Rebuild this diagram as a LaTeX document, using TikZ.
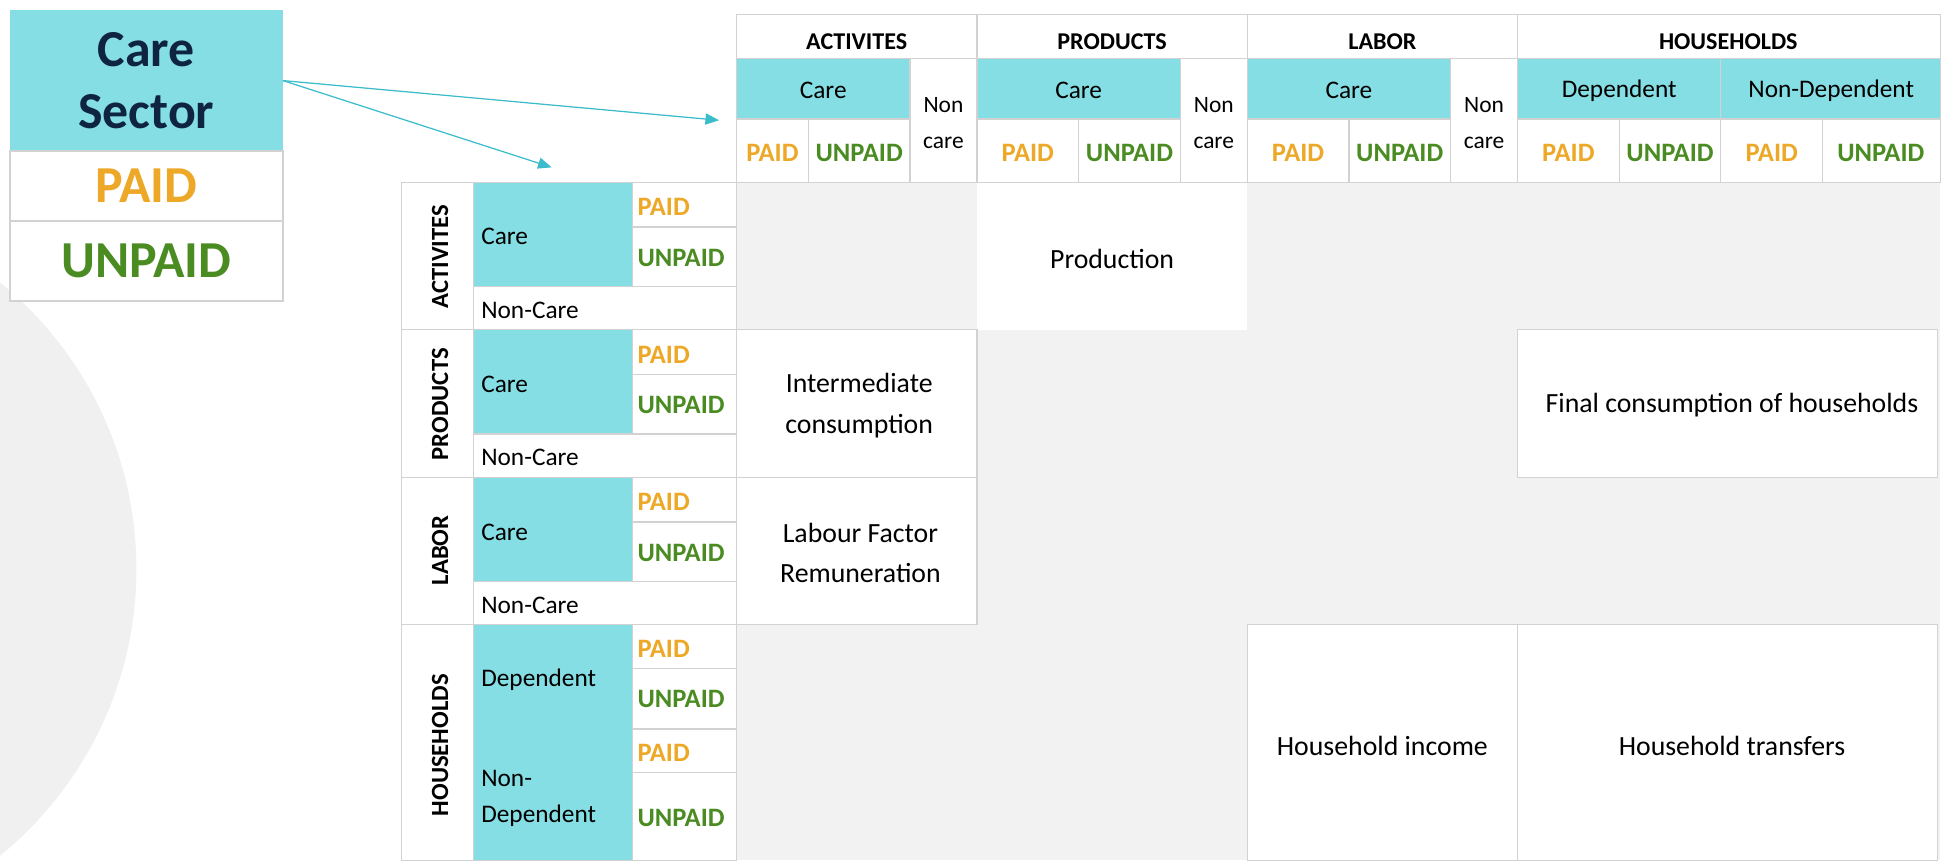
\documentclass[tikz,border=0pt]{standalone}
\usepackage{fontspec}
\setmainfont{Carlito}
\usetikzlibrary{arrows.meta}

\definecolor{careblue}{HTML}{85DEE3}
\definecolor{paidorange}{HTML}{ECA826}
\definecolor{unpaidgreen}{HTML}{4A8C22}
\definecolor{gridgray}{HTML}{D2D2D2}
\definecolor{bodygray}{HTML}{F2F2F2}
\definecolor{globegray}{HTML}{F0F0F0}
\definecolor{sectornavy}{HTML}{0E2440}
\definecolor{arrowteal}{HTML}{3BBCCB}

\tikzset{
  gridline/.style={draw=gridgray, line width=1bp},
  careline/.style={draw=arrowteal, line width=1bp, -{Triangle[length=11bp,width=9bp]}},
  legendcell/.style={minimum width=220bp, align=center, font=\fontsize{42}{50}\selectfont\bfseries},
  headtxt/.style={font=\fontsize{19.5}{24}\selectfont\bfseries},
  subtxt/.style={font=\fontsize{20.5}{29}\selectfont},
  noncare/.style={font=\fontsize{19}{29}\selectfont, align=center},
  paidtxt/.style={font=\fontsize{21.5}{26}\selectfont\bfseries, text=paidorange},
  unpaidtxt/.style={font=\fontsize{21.5}{26}\selectfont\bfseries, text=unpaidgreen},
  rowtxt/.style={font=\fontsize{20}{24}\selectfont\bfseries, rotate=90},
  bodytxt/.style={font=\fontsize{22.5}{33}\selectfont, align=center}
}

\begin{document}
\begin{tikzpicture}[x=1bp, y=-1bp, every node/.style={inner sep=0pt}]
  \useasboundingbox (0,0) rectangle (1568,694);
  % globe watermark on the left
  \begin{scope}
    \clip (0,0) rectangle (1568,694);
    \fill[globegray] (-188,459) circle[radius=298bp];
  \end{scope}

  % legend
  \node[legendcell, fill=careblue, minimum height=114bp, text=sectornavy] (caresector) at (118,65) {Care\\Sector};
  \node[legendcell, draw=gridgray, line width=1.5bp, fill=white, minimum height=56bp, text=paidorange] (legpaid) at (118,150) {PAID};
  \node[legendcell, draw=gridgray, line width=1.5bp, fill=white, minimum height=65bp, text=unpaidgreen] (legunpaid) at (118,210.5) {UNPAID};

  % arrows from the legend to the table
  \coordinate (tohead) at (580,97);
  \coordinate (torows) at (445,135);
  \draw[careline] (caresector.east) -- (tohead);
  \draw[careline] (caresector.east) -- (torows);

  % body of the matrix
  \fill[bodygray] (594,147) rectangle (1565,694);
  \fill[white] (788,147) rectangle (1006,266);
  \draw[gridline, fill=white] (594,266) rectangle (788,385);
  \draw[gridline, fill=white] (594,385) rectangle (788,504);
  \draw[gridline, fill=white] (1224,266) rectangle (1563,385);
  \draw[gridline, fill=white] (1006,504) rectangle (1224,694);
  \draw[gridline, fill=white] (1224,504) rectangle (1563,694);
  \node[bodytxt] (production) at (897,209) {Production};
  \node[bodytxt] (intercons) at (693,327) {Intermediate\\consumption};
  \node[bodytxt] (labourrem) at (694,446) {Labour Factor\\Remuneration};
  \node[bodytxt] (finalcons) at (1397,327) {Final consumption of households};
  \node[bodytxt] (hhincome) at (1115,602) {Household income};
  \node[bodytxt] (hhtransfer) at (1397,602) {Household transfers};

  % column header
  \fill[white] (594,12) rectangle (1565,147);
  \fill[careblue] (594,47) rectangle (734,96);
  \fill[careblue] (788,47) rectangle (952,96);
  \fill[careblue] (1006,47) rectangle (1170,96);
  \fill[careblue] (1224,47) rectangle (1565,96);
  \draw[gridline] (594,12) rectangle (1565,147);
  \draw[gridline] (594,47) -- (1565,47);
  \draw[gridline] (594,96) -- (734,96) (788,96) -- (952,96) (1006,96) -- (1170,96) (1224,96) -- (1565,96);
  \foreach \x in {788,1006,1224} \draw[gridline] (\x,12) -- (\x,147);
  \foreach \x in {734,952,1170,1388} \draw[gridline] (\x,47) -- (\x,147);
  \foreach \x in {652,870,1088,1306,1470} \draw[gridline] (\x,96) -- (\x,147);
  \node[headtxt] (hact) at (691,34) {ACTIVITES};
  \node[headtxt] (hprod) at (897,34) {PRODUCTS};
  \node[headtxt] (hlab) at (1115,34) {LABOR};
  \node[headtxt] (hhh) at (1394,34) {HOUSEHOLDS};
  \node[subtxt] (hactcare) at (664,73) {Care};
  \node[subtxt] (hprodcare) at (870,73) {Care};
  \node[subtxt] (hlabcare) at (1088,73) {Care};
  \node[subtxt] (hhhdep) at (1306,73) {Dependent};
  \node[subtxt] (hhhnondep) at (1477,73) {Non-Dependent};
  \node[noncare] (hactnon) at (761,99) {Non\\care};
  \node[noncare] (hprodnon) at (979,99) {Non\\care};
  \node[noncare] (hlabnon) at (1197,99) {Non\\care};
  \foreach \x [count=\i] in {623,829,1047,1265,1429} \node[paidtxt] (hpaid\i) at (\x,123) {PAID};
  \foreach \x [count=\i] in {693,911,1129,1347,1517} \node[unpaidtxt] (hunpaid\i) at (\x,123) {UNPAID};

  % row header
  \fill[white] (324,147) rectangle (594,694);
  \fill[careblue] (382,147) rectangle (510,231);
  \fill[careblue] (382,266) rectangle (510,350);
  \fill[careblue] (382,385) rectangle (510,469);
  \fill[careblue] (382,504) rectangle (510,694);
  \draw[gridline] (324,147) rectangle (594,694);
  \draw[gridline] (382,147) -- (382,694);
  \foreach \y in {266,385,504} \draw[gridline] (324,\y) -- (594,\y);
  \foreach \y in {231,350,469} \draw[gridline] (382,\y) -- (594,\y);
  \foreach \y in {183,302,421,539,588,623} \draw[gridline] (510,\y) -- (594,\y);
  \foreach \a/\b in {147/231,266/350,385/469,504/694} \draw[gridline] (510,\a) -- (510,\b);
  \node[rowtxt] (ract) at (355,207) {ACTIVITES};
  \node[rowtxt] (rprod) at (355,326) {PRODUCTS};
  \node[rowtxt] (rlab) at (355,444) {LABOR};
  \node[rowtxt] (rhh) at (355,601) {HOUSEHOLDS};
  \foreach \y [count=\i] in {191,310,429} \node[subtxt, anchor=west] (rcare\i) at (388,\y) {Care};
  \foreach \y [count=\i] in {250,369,488} \node[subtxt, anchor=west] (rnon\i) at (388,\y) {Non-Care};
  \node[subtxt, anchor=west] (rdep) at (388,548) {Dependent};
  \node[subtxt, anchor=west, align=left] (rnondep) at (388,644) {Non-\\Dependent};
  \foreach \y [count=\i] in {167,286,405,523,607} \node[paidtxt, anchor=west] (rpaid\i) at (514,\y) {PAID};
  \foreach \y [count=\i] in {208,327,446,564,660} \node[unpaidtxt, anchor=west] (runpaid\i) at (514,\y) {UNPAID};
\end{tikzpicture}
\end{document}
